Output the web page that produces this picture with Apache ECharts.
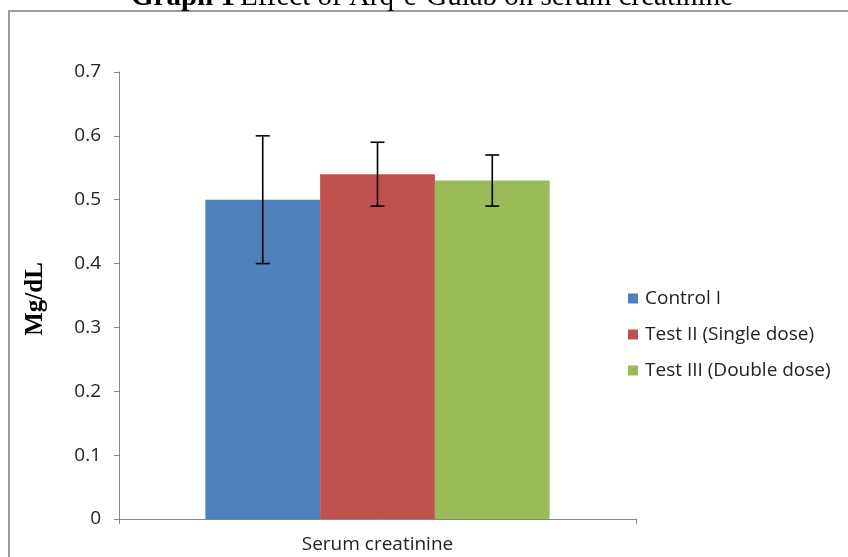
<!DOCTYPE html>
<html>
<head>
<meta charset="utf-8">
<script src="https://cdn.jsdelivr.net/npm/echarts@6/dist/echarts.min.js"></script>
<style>html,body{margin:0;padding:0;background:#fff;}#c{width:848px;height:557px;}</style>
</head>
<body>
<div id="c"></div>
<script>
const categories = ['Serum creatinine'];
const seriesNames = ['Control I', 'Test II (Single dose)', 'Test III (Double dose)'];
const means = [0.50, 0.54, 0.53];
const errLow = [0.40, 0.49, 0.49];
const errHigh = [0.60, 0.59, 0.57];
const colors = ['#4F81BD', '#C0504D', '#9BBB59'];
const yTicks = { min: 0, max: 0.7, interval: 0.1 };

const chart = echarts.init(document.getElementById('c'));
const gapFrac = 0.334;

const barSeries = seriesNames.map((n, i) => ({
  name: n,
  type: 'bar',
  data: [means[i]],
  barGap: '0%',
  barCategoryGap: (gapFrac * 100) + '%',
  itemStyle: { color: colors[i] },
  emphasis: { disabled: true }
}));

const errData = seriesNames.map((n, i) => [0, errLow[i], errHigh[i], i]);

const errSeries = {
  type: 'custom',
  data: errData,
  z: 10,
  silent: true,
  encode: { x: 0, y: [1, 2] },
  renderItem: function (params, api) {
    const idx = api.value(3);
    const band = api.size([1, 0])[0];
    const bw = band * (1 - gapFrac) / seriesNames.length;
    const lo = api.coord([api.value(0), api.value(1)]);
    const hi = api.coord([api.value(0), api.value(2)]);
    const x = lo[0] + (idx - (seriesNames.length - 1) / 2) * bw;
    const cap = 7;
    const st = { stroke: '#000', lineWidth: 1.6 };
    return {
      type: 'group',
      children: [
        { type: 'line', shape: { x1: x, y1: lo[1], x2: x, y2: hi[1] }, style: st },
        { type: 'line', shape: { x1: x - cap, y1: lo[1], x2: x + cap, y2: lo[1] }, style: st },
        { type: 'line', shape: { x1: x - cap, y1: hi[1], x2: x + cap, y2: hi[1] }, style: st }
      ]
    };
  }
};

chart.setOption({
  animation: false,
  title: {
    text: '{b|Graph 1} {n|Effect of Arq-e-Gulab on serum creatinine}',
    left: 427,
    textAlign: 'center',
    top: -22,
    textStyle: {
      rich: {
        b: { fontFamily: 'Liberation Serif', fontWeight: 'bold', fontSize: 29, color: '#000' },
        n: { fontFamily: 'Liberation Serif', fontWeight: 'normal', fontSize: 29, color: '#000' }
      }
    }
  },
  graphic: [{
    type: 'rect',
    shape: { x: 9, y: 11, width: 900, height: 600 },
    style: { fill: 'none', stroke: '#9a9a9a', lineWidth: 2 },
    silent: true
  }],
  legend: {
    orient: 'vertical',
    left: 623,
    top: 284,
    itemWidth: 10,
    itemHeight: 10,
    itemGap: 17,
    icon: 'rect',
    data: seriesNames,
    textStyle: { fontFamily: 'Open Sans', fontSize: 19, color: '#222', padding: [0, 0, 0, 2] }
  },
  grid: { left: 119, top: 72, right: 212, bottom: 38 },
  xAxis: {
    type: 'category',
    data: categories,
    axisLine: { lineStyle: { color: '#868686', width: 1 } },
    axisTick: { show: true, length: 5, lineStyle: { color: '#868686' } },
    axisLabel: { fontFamily: 'Open Sans', fontSize: 19, color: '#222', margin: 16 }
  },
  yAxis: {
    type: 'value',
    min: yTicks.min,
    max: yTicks.max,
    interval: yTicks.interval,
    name: 'Mg/dL',
    nameLocation: 'middle',
    nameRotate: 90,
    nameGap: 71,
    nameTextStyle: { fontFamily: 'Liberation Serif', fontWeight: 'bold', fontSize: 25, color: '#000', padding: [0, 7, 0, 0] },
    splitLine: { show: false },
    axisLine: { show: true, lineStyle: { color: '#868686', width: 1 } },
    axisTick: { show: true, length: 5, lineStyle: { color: '#868686' } },
    axisLabel: { fontFamily: 'Open Sans', fontSize: 19, color: '#222', margin: 18 }
  },
  series: barSeries.concat([errSeries])
});
</script>
</body>
</html>
